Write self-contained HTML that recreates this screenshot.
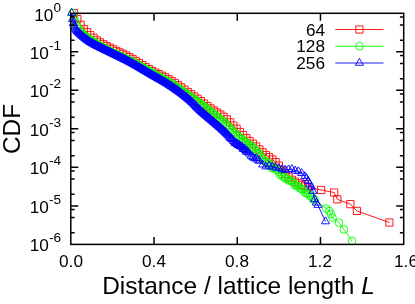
<!DOCTYPE html>
<html><head><meta charset="utf-8"><title>CDF</title><style>
html,body{margin:0;padding:0;background:#fff;}
body{width:415px;height:304px;position:relative;overflow:hidden;font-family:"Liberation Sans",sans-serif;color:#000;}
.t{will-change:transform;position:absolute;white-space:nowrap;line-height:1;font-size:17.2px;}
.yt{text-align:right;width:60px;left:0.8px;}
.yt sup{font-size:13.6px;vertical-align:baseline;position:relative;top:-8.7px;line-height:0;}
.xt{text-align:center;width:60px;}
.lg{text-align:right;width:60px;left:265.4px;}
.xl{font-size:24.4px;left:0;width:415px;text-align:center;}
.yl{font-size:24.4px;transform-origin:0 0;transform:rotate(-90deg);}
</style></head><body>
<svg width="415" height="304" viewBox="0 0 415 304" style="position:absolute;left:0;top:0"><g fill="none" stroke-width="0.9" stroke-linejoin="miter"><polyline stroke="#ff0000" points="74.05,13 77.3,19 80.55,24.8 83.8,29 87.05,32.16 90.31,35.21 93.56,37.77 96.81,40.31 100.06,42.38 103.31,44.24 106.56,46 109.81,47.7 113.06,49.33 116.31,50.88 119.56,52.39 122.82,53.9 126.07,55.47 129.32,57.13 132.57,58.95 135.82,60.94 139.07,63.01 142.32,65.11 145.57,67.18 148.82,69.13 152.07,70.92 155.33,72.58 158.58,74.16 161.83,75.72 165.08,77.33 168.33,79.05 171.58,80.94 174.83,82.99 178.08,85.16 181.33,87.41 184.58,89.7 187.84,92 191.09,94.25 194.34,96.49 197.59,98.77 200.84,101.11 204.09,103.58 207.34,106.06 210.59,108.41 213.84,110.52 217.09,112.51 220.34,114.53 223.6,116.74 226.85,119.33 230.1,122.37 233.35,125.59 236.6,128.76 239.85,132.01 243.1,135.22 246.35,138.21 249.6,140.98 252.85,143.68 256.11,146.47 259.36,149.41 262.61,152.31 265.86,154.96 269.11,157.21 272.36,159.43 275.61,162.05 278.86,165.6 282.11,169.74 285.36,173.85 288.62,177.35 291.87,179.79 295.12,181.7 298.37,183.34 301.62,184.86 304.87,186.24 308.12,187.44 321.13,189.96 334.13,192.54 337.38,199.33 350.38,204.14 356.89,210.92 389.4,222.51"/><path stroke="#ff0000" d="M70.45 9.4h7.2v7.2h-7.2zM73.7 15.4h7.2v7.2h-7.2zM76.95 21.2h7.2v7.2h-7.2zM80.2 25.4h7.2v7.2h-7.2zM83.45 28.56h7.2v7.2h-7.2zM86.71 31.61h7.2v7.2h-7.2zM89.96 34.17h7.2v7.2h-7.2zM93.21 36.71h7.2v7.2h-7.2zM96.46 38.78h7.2v7.2h-7.2zM99.71 40.64h7.2v7.2h-7.2zM102.96 42.4h7.2v7.2h-7.2zM106.21 44.1h7.2v7.2h-7.2zM109.46 45.73h7.2v7.2h-7.2zM112.71 47.28h7.2v7.2h-7.2zM115.96 48.79h7.2v7.2h-7.2zM119.22 50.3h7.2v7.2h-7.2zM122.47 51.87h7.2v7.2h-7.2zM125.72 53.53h7.2v7.2h-7.2zM128.97 55.35h7.2v7.2h-7.2zM132.22 57.34h7.2v7.2h-7.2zM135.47 59.41h7.2v7.2h-7.2zM138.72 61.51h7.2v7.2h-7.2zM141.97 63.58h7.2v7.2h-7.2zM145.22 65.53h7.2v7.2h-7.2zM148.47 67.32h7.2v7.2h-7.2zM151.73 68.98h7.2v7.2h-7.2zM154.98 70.56h7.2v7.2h-7.2zM158.23 72.12h7.2v7.2h-7.2zM161.48 73.73h7.2v7.2h-7.2zM164.73 75.45h7.2v7.2h-7.2zM167.98 77.34h7.2v7.2h-7.2zM171.23 79.39h7.2v7.2h-7.2zM174.48 81.56h7.2v7.2h-7.2zM177.73 83.81h7.2v7.2h-7.2zM180.98 86.1h7.2v7.2h-7.2zM184.24 88.4h7.2v7.2h-7.2zM187.49 90.65h7.2v7.2h-7.2zM190.74 92.89h7.2v7.2h-7.2zM193.99 95.17h7.2v7.2h-7.2zM197.24 97.51h7.2v7.2h-7.2zM200.49 99.98h7.2v7.2h-7.2zM203.74 102.46h7.2v7.2h-7.2zM206.99 104.81h7.2v7.2h-7.2zM210.24 106.92h7.2v7.2h-7.2zM213.49 108.91h7.2v7.2h-7.2zM216.74 110.93h7.2v7.2h-7.2zM220 113.14h7.2v7.2h-7.2zM223.25 115.73h7.2v7.2h-7.2zM226.5 118.77h7.2v7.2h-7.2zM229.75 121.99h7.2v7.2h-7.2zM233 125.16h7.2v7.2h-7.2zM236.25 128.41h7.2v7.2h-7.2zM239.5 131.62h7.2v7.2h-7.2zM242.75 134.61h7.2v7.2h-7.2zM246 137.38h7.2v7.2h-7.2zM249.25 140.08h7.2v7.2h-7.2zM252.51 142.87h7.2v7.2h-7.2zM255.76 145.81h7.2v7.2h-7.2zM259.01 148.71h7.2v7.2h-7.2zM262.26 151.36h7.2v7.2h-7.2zM265.51 153.61h7.2v7.2h-7.2zM268.76 155.83h7.2v7.2h-7.2zM272.01 158.45h7.2v7.2h-7.2zM275.26 162h7.2v7.2h-7.2zM278.51 166.14h7.2v7.2h-7.2zM281.76 170.25h7.2v7.2h-7.2zM285.02 173.75h7.2v7.2h-7.2zM288.27 176.19h7.2v7.2h-7.2zM291.52 178.1h7.2v7.2h-7.2zM294.77 179.74h7.2v7.2h-7.2zM298.02 181.26h7.2v7.2h-7.2zM301.27 182.64h7.2v7.2h-7.2zM304.52 183.84h7.2v7.2h-7.2zM317.53 186.36h7.2v7.2h-7.2zM330.53 188.94h7.2v7.2h-7.2zM333.78 195.73h7.2v7.2h-7.2zM346.78 200.54h7.2v7.2h-7.2zM353.29 207.32h7.2v7.2h-7.2zM385.8 218.91h7.2v7.2h-7.2z"/><polyline stroke="#00ff00" points="72.43,13 74.05,17.16 75.68,22.49 77.3,26.4 78.93,29.17 80.55,31.47 82.18,33.47 83.8,35.01 85.43,36.33 87.05,37.52 88.68,38.62 90.31,39.7 91.93,40.77 93.56,41.81 95.18,42.82 96.81,43.81 98.43,44.77 100.06,45.71 101.68,46.63 103.31,47.53 104.94,48.41 106.56,49.29 108.19,50.15 109.81,51 111.44,51.84 113.06,52.64 114.69,53.43 116.31,54.19 117.94,54.94 119.56,55.68 121.19,56.42 122.82,57.16 124.44,57.91 126.07,58.67 127.69,59.45 129.32,60.25 130.94,61.08 132.57,61.93 134.19,62.79 135.82,63.67 137.45,64.56 139.07,65.46 140.7,66.36 142.32,67.28 143.95,68.19 145.57,69.11 147.2,70.02 148.82,70.94 150.45,71.85 152.07,72.76 153.7,73.66 155.33,74.56 156.95,75.46 158.58,76.36 160.2,77.27 161.83,78.18 163.45,79.11 165.08,80.05 166.7,81.01 168.33,81.98 169.95,82.97 171.58,83.99 173.21,85.03 174.83,86.09 176.46,87.17 178.08,88.27 179.71,89.37 181.33,90.49 182.96,91.62 184.58,92.74 186.21,93.87 187.84,95 189.46,96.13 191.09,97.25 192.71,98.36 194.34,99.48 195.96,100.61 197.59,101.76 199.21,102.93 200.84,104.12 202.46,105.34 204.09,106.58 205.72,107.84 207.34,109.11 208.97,110.39 210.59,111.66 212.22,112.92 213.84,114.17 215.47,115.42 217.09,116.67 218.72,117.95 220.34,119.25 221.97,120.58 223.6,121.96 225.22,123.4 226.85,124.94 228.47,126.58 230.1,128.27 231.72,129.96 233.35,131.61 234.97,133.18 236.6,134.62 238.23,135.96 239.85,137.56 241.48,138.56 243.1,140.24 244.73,141.43 246.35,142.38 247.98,144.22 249.6,144.77 251.23,146.66 252.85,147.3 254.48,148.68 256.11,150.89 257.73,153.52 259.36,153.5 260.98,155.51 262.61,158.42 264.23,161.14 265.86,161.57 267.48,162.53 269.11,165.87 270.74,164.35 272.36,168.38 273.99,167.96 275.61,168.88 277.24,170.17 278.86,172.14 280.49,175.11 282.11,174.4 283.74,176.99 285.36,178.45 286.99,178.85 288.62,180.64 290.24,180.27 291.87,181.4 293.49,182.95 295.12,185.53 296.74,185.76 298.37,186.44 299.99,188.38 301.62,189.08 303.24,189.76 304.87,192.54 306.5,193.45 308.12,193.24 309.75,195.56 311.37,196.7 313,199.13 314.62,199.73 326,208.45 329.25,211.03 330.88,214.08 332.5,217.82 339.01,222.63 343.88,229.41 352.01,241.01"/><path stroke="#00ff00" d="M68.58 13a3.85 3.85 0 1 0 7.7 0a3.85 3.85 0 1 0 -7.7 0zM70.2 17.16a3.85 3.85 0 1 0 7.7 0a3.85 3.85 0 1 0 -7.7 0zM71.83 22.49a3.85 3.85 0 1 0 7.7 0a3.85 3.85 0 1 0 -7.7 0zM73.45 26.4a3.85 3.85 0 1 0 7.7 0a3.85 3.85 0 1 0 -7.7 0zM75.08 29.17a3.85 3.85 0 1 0 7.7 0a3.85 3.85 0 1 0 -7.7 0zM76.7 31.47a3.85 3.85 0 1 0 7.7 0a3.85 3.85 0 1 0 -7.7 0zM78.33 33.47a3.85 3.85 0 1 0 7.7 0a3.85 3.85 0 1 0 -7.7 0zM79.95 35.01a3.85 3.85 0 1 0 7.7 0a3.85 3.85 0 1 0 -7.7 0zM81.58 36.33a3.85 3.85 0 1 0 7.7 0a3.85 3.85 0 1 0 -7.7 0zM83.2 37.52a3.85 3.85 0 1 0 7.7 0a3.85 3.85 0 1 0 -7.7 0zM84.83 38.62a3.85 3.85 0 1 0 7.7 0a3.85 3.85 0 1 0 -7.7 0zM86.46 39.7a3.85 3.85 0 1 0 7.7 0a3.85 3.85 0 1 0 -7.7 0zM88.08 40.77a3.85 3.85 0 1 0 7.7 0a3.85 3.85 0 1 0 -7.7 0zM89.71 41.81a3.85 3.85 0 1 0 7.7 0a3.85 3.85 0 1 0 -7.7 0zM91.33 42.82a3.85 3.85 0 1 0 7.7 0a3.85 3.85 0 1 0 -7.7 0zM92.96 43.81a3.85 3.85 0 1 0 7.7 0a3.85 3.85 0 1 0 -7.7 0zM94.58 44.77a3.85 3.85 0 1 0 7.7 0a3.85 3.85 0 1 0 -7.7 0zM96.21 45.71a3.85 3.85 0 1 0 7.7 0a3.85 3.85 0 1 0 -7.7 0zM97.83 46.63a3.85 3.85 0 1 0 7.7 0a3.85 3.85 0 1 0 -7.7 0zM99.46 47.53a3.85 3.85 0 1 0 7.7 0a3.85 3.85 0 1 0 -7.7 0zM101.09 48.41a3.85 3.85 0 1 0 7.7 0a3.85 3.85 0 1 0 -7.7 0zM102.71 49.29a3.85 3.85 0 1 0 7.7 0a3.85 3.85 0 1 0 -7.7 0zM104.34 50.15a3.85 3.85 0 1 0 7.7 0a3.85 3.85 0 1 0 -7.7 0zM105.96 51a3.85 3.85 0 1 0 7.7 0a3.85 3.85 0 1 0 -7.7 0zM107.59 51.84a3.85 3.85 0 1 0 7.7 0a3.85 3.85 0 1 0 -7.7 0zM109.21 52.64a3.85 3.85 0 1 0 7.7 0a3.85 3.85 0 1 0 -7.7 0zM110.84 53.43a3.85 3.85 0 1 0 7.7 0a3.85 3.85 0 1 0 -7.7 0zM112.46 54.19a3.85 3.85 0 1 0 7.7 0a3.85 3.85 0 1 0 -7.7 0zM114.09 54.94a3.85 3.85 0 1 0 7.7 0a3.85 3.85 0 1 0 -7.7 0zM115.71 55.68a3.85 3.85 0 1 0 7.7 0a3.85 3.85 0 1 0 -7.7 0zM117.34 56.42a3.85 3.85 0 1 0 7.7 0a3.85 3.85 0 1 0 -7.7 0zM118.97 57.16a3.85 3.85 0 1 0 7.7 0a3.85 3.85 0 1 0 -7.7 0zM120.59 57.91a3.85 3.85 0 1 0 7.7 0a3.85 3.85 0 1 0 -7.7 0zM122.22 58.67a3.85 3.85 0 1 0 7.7 0a3.85 3.85 0 1 0 -7.7 0zM123.84 59.45a3.85 3.85 0 1 0 7.7 0a3.85 3.85 0 1 0 -7.7 0zM125.47 60.25a3.85 3.85 0 1 0 7.7 0a3.85 3.85 0 1 0 -7.7 0zM127.09 61.08a3.85 3.85 0 1 0 7.7 0a3.85 3.85 0 1 0 -7.7 0zM128.72 61.93a3.85 3.85 0 1 0 7.7 0a3.85 3.85 0 1 0 -7.7 0zM130.34 62.79a3.85 3.85 0 1 0 7.7 0a3.85 3.85 0 1 0 -7.7 0zM131.97 63.67a3.85 3.85 0 1 0 7.7 0a3.85 3.85 0 1 0 -7.7 0zM133.6 64.56a3.85 3.85 0 1 0 7.7 0a3.85 3.85 0 1 0 -7.7 0zM135.22 65.46a3.85 3.85 0 1 0 7.7 0a3.85 3.85 0 1 0 -7.7 0zM136.85 66.36a3.85 3.85 0 1 0 7.7 0a3.85 3.85 0 1 0 -7.7 0zM138.47 67.28a3.85 3.85 0 1 0 7.7 0a3.85 3.85 0 1 0 -7.7 0zM140.1 68.19a3.85 3.85 0 1 0 7.7 0a3.85 3.85 0 1 0 -7.7 0zM141.72 69.11a3.85 3.85 0 1 0 7.7 0a3.85 3.85 0 1 0 -7.7 0zM143.35 70.02a3.85 3.85 0 1 0 7.7 0a3.85 3.85 0 1 0 -7.7 0zM144.97 70.94a3.85 3.85 0 1 0 7.7 0a3.85 3.85 0 1 0 -7.7 0zM146.6 71.85a3.85 3.85 0 1 0 7.7 0a3.85 3.85 0 1 0 -7.7 0zM148.22 72.76a3.85 3.85 0 1 0 7.7 0a3.85 3.85 0 1 0 -7.7 0zM149.85 73.66a3.85 3.85 0 1 0 7.7 0a3.85 3.85 0 1 0 -7.7 0zM151.48 74.56a3.85 3.85 0 1 0 7.7 0a3.85 3.85 0 1 0 -7.7 0zM153.1 75.46a3.85 3.85 0 1 0 7.7 0a3.85 3.85 0 1 0 -7.7 0zM154.73 76.36a3.85 3.85 0 1 0 7.7 0a3.85 3.85 0 1 0 -7.7 0zM156.35 77.27a3.85 3.85 0 1 0 7.7 0a3.85 3.85 0 1 0 -7.7 0zM157.98 78.18a3.85 3.85 0 1 0 7.7 0a3.85 3.85 0 1 0 -7.7 0zM159.6 79.11a3.85 3.85 0 1 0 7.7 0a3.85 3.85 0 1 0 -7.7 0zM161.23 80.05a3.85 3.85 0 1 0 7.7 0a3.85 3.85 0 1 0 -7.7 0zM162.85 81.01a3.85 3.85 0 1 0 7.7 0a3.85 3.85 0 1 0 -7.7 0zM164.48 81.98a3.85 3.85 0 1 0 7.7 0a3.85 3.85 0 1 0 -7.7 0zM166.1 82.97a3.85 3.85 0 1 0 7.7 0a3.85 3.85 0 1 0 -7.7 0zM167.73 83.99a3.85 3.85 0 1 0 7.7 0a3.85 3.85 0 1 0 -7.7 0zM169.36 85.03a3.85 3.85 0 1 0 7.7 0a3.85 3.85 0 1 0 -7.7 0zM170.98 86.09a3.85 3.85 0 1 0 7.7 0a3.85 3.85 0 1 0 -7.7 0zM172.61 87.17a3.85 3.85 0 1 0 7.7 0a3.85 3.85 0 1 0 -7.7 0zM174.23 88.27a3.85 3.85 0 1 0 7.7 0a3.85 3.85 0 1 0 -7.7 0zM175.86 89.37a3.85 3.85 0 1 0 7.7 0a3.85 3.85 0 1 0 -7.7 0zM177.48 90.49a3.85 3.85 0 1 0 7.7 0a3.85 3.85 0 1 0 -7.7 0zM179.11 91.62a3.85 3.85 0 1 0 7.7 0a3.85 3.85 0 1 0 -7.7 0zM180.73 92.74a3.85 3.85 0 1 0 7.7 0a3.85 3.85 0 1 0 -7.7 0zM182.36 93.87a3.85 3.85 0 1 0 7.7 0a3.85 3.85 0 1 0 -7.7 0zM183.99 95a3.85 3.85 0 1 0 7.7 0a3.85 3.85 0 1 0 -7.7 0zM185.61 96.13a3.85 3.85 0 1 0 7.7 0a3.85 3.85 0 1 0 -7.7 0zM187.24 97.25a3.85 3.85 0 1 0 7.7 0a3.85 3.85 0 1 0 -7.7 0zM188.86 98.36a3.85 3.85 0 1 0 7.7 0a3.85 3.85 0 1 0 -7.7 0zM190.49 99.48a3.85 3.85 0 1 0 7.7 0a3.85 3.85 0 1 0 -7.7 0zM192.11 100.61a3.85 3.85 0 1 0 7.7 0a3.85 3.85 0 1 0 -7.7 0zM193.74 101.76a3.85 3.85 0 1 0 7.7 0a3.85 3.85 0 1 0 -7.7 0zM195.36 102.93a3.85 3.85 0 1 0 7.7 0a3.85 3.85 0 1 0 -7.7 0zM196.99 104.12a3.85 3.85 0 1 0 7.7 0a3.85 3.85 0 1 0 -7.7 0zM198.61 105.34a3.85 3.85 0 1 0 7.7 0a3.85 3.85 0 1 0 -7.7 0zM200.24 106.58a3.85 3.85 0 1 0 7.7 0a3.85 3.85 0 1 0 -7.7 0zM201.87 107.84a3.85 3.85 0 1 0 7.7 0a3.85 3.85 0 1 0 -7.7 0zM203.49 109.11a3.85 3.85 0 1 0 7.7 0a3.85 3.85 0 1 0 -7.7 0zM205.12 110.39a3.85 3.85 0 1 0 7.7 0a3.85 3.85 0 1 0 -7.7 0zM206.74 111.66a3.85 3.85 0 1 0 7.7 0a3.85 3.85 0 1 0 -7.7 0zM208.37 112.92a3.85 3.85 0 1 0 7.7 0a3.85 3.85 0 1 0 -7.7 0zM209.99 114.17a3.85 3.85 0 1 0 7.7 0a3.85 3.85 0 1 0 -7.7 0zM211.62 115.42a3.85 3.85 0 1 0 7.7 0a3.85 3.85 0 1 0 -7.7 0zM213.24 116.67a3.85 3.85 0 1 0 7.7 0a3.85 3.85 0 1 0 -7.7 0zM214.87 117.95a3.85 3.85 0 1 0 7.7 0a3.85 3.85 0 1 0 -7.7 0zM216.49 119.25a3.85 3.85 0 1 0 7.7 0a3.85 3.85 0 1 0 -7.7 0zM218.12 120.58a3.85 3.85 0 1 0 7.7 0a3.85 3.85 0 1 0 -7.7 0zM219.75 121.96a3.85 3.85 0 1 0 7.7 0a3.85 3.85 0 1 0 -7.7 0zM221.37 123.4a3.85 3.85 0 1 0 7.7 0a3.85 3.85 0 1 0 -7.7 0zM223 124.94a3.85 3.85 0 1 0 7.7 0a3.85 3.85 0 1 0 -7.7 0zM224.62 126.58a3.85 3.85 0 1 0 7.7 0a3.85 3.85 0 1 0 -7.7 0zM226.25 128.27a3.85 3.85 0 1 0 7.7 0a3.85 3.85 0 1 0 -7.7 0zM227.87 129.96a3.85 3.85 0 1 0 7.7 0a3.85 3.85 0 1 0 -7.7 0zM229.5 131.61a3.85 3.85 0 1 0 7.7 0a3.85 3.85 0 1 0 -7.7 0zM231.12 133.18a3.85 3.85 0 1 0 7.7 0a3.85 3.85 0 1 0 -7.7 0zM232.75 134.62a3.85 3.85 0 1 0 7.7 0a3.85 3.85 0 1 0 -7.7 0zM234.38 135.96a3.85 3.85 0 1 0 7.7 0a3.85 3.85 0 1 0 -7.7 0zM236 137.56a3.85 3.85 0 1 0 7.7 0a3.85 3.85 0 1 0 -7.7 0zM237.63 138.56a3.85 3.85 0 1 0 7.7 0a3.85 3.85 0 1 0 -7.7 0zM239.25 140.24a3.85 3.85 0 1 0 7.7 0a3.85 3.85 0 1 0 -7.7 0zM240.88 141.43a3.85 3.85 0 1 0 7.7 0a3.85 3.85 0 1 0 -7.7 0zM242.5 142.38a3.85 3.85 0 1 0 7.7 0a3.85 3.85 0 1 0 -7.7 0zM244.13 144.22a3.85 3.85 0 1 0 7.7 0a3.85 3.85 0 1 0 -7.7 0zM245.75 144.77a3.85 3.85 0 1 0 7.7 0a3.85 3.85 0 1 0 -7.7 0zM247.38 146.66a3.85 3.85 0 1 0 7.7 0a3.85 3.85 0 1 0 -7.7 0zM249 147.3a3.85 3.85 0 1 0 7.7 0a3.85 3.85 0 1 0 -7.7 0zM250.63 148.68a3.85 3.85 0 1 0 7.7 0a3.85 3.85 0 1 0 -7.7 0zM252.26 150.89a3.85 3.85 0 1 0 7.7 0a3.85 3.85 0 1 0 -7.7 0zM253.88 153.52a3.85 3.85 0 1 0 7.7 0a3.85 3.85 0 1 0 -7.7 0zM255.51 153.5a3.85 3.85 0 1 0 7.7 0a3.85 3.85 0 1 0 -7.7 0zM257.13 155.51a3.85 3.85 0 1 0 7.7 0a3.85 3.85 0 1 0 -7.7 0zM258.76 158.42a3.85 3.85 0 1 0 7.7 0a3.85 3.85 0 1 0 -7.7 0zM260.38 161.14a3.85 3.85 0 1 0 7.7 0a3.85 3.85 0 1 0 -7.7 0zM262.01 161.57a3.85 3.85 0 1 0 7.7 0a3.85 3.85 0 1 0 -7.7 0zM263.63 162.53a3.85 3.85 0 1 0 7.7 0a3.85 3.85 0 1 0 -7.7 0zM265.26 165.87a3.85 3.85 0 1 0 7.7 0a3.85 3.85 0 1 0 -7.7 0zM266.89 164.35a3.85 3.85 0 1 0 7.7 0a3.85 3.85 0 1 0 -7.7 0zM268.51 168.38a3.85 3.85 0 1 0 7.7 0a3.85 3.85 0 1 0 -7.7 0zM270.14 167.96a3.85 3.85 0 1 0 7.7 0a3.85 3.85 0 1 0 -7.7 0zM271.76 168.88a3.85 3.85 0 1 0 7.7 0a3.85 3.85 0 1 0 -7.7 0zM273.39 170.17a3.85 3.85 0 1 0 7.7 0a3.85 3.85 0 1 0 -7.7 0zM275.01 172.14a3.85 3.85 0 1 0 7.7 0a3.85 3.85 0 1 0 -7.7 0zM276.64 175.11a3.85 3.85 0 1 0 7.7 0a3.85 3.85 0 1 0 -7.7 0zM278.26 174.4a3.85 3.85 0 1 0 7.7 0a3.85 3.85 0 1 0 -7.7 0zM279.89 176.99a3.85 3.85 0 1 0 7.7 0a3.85 3.85 0 1 0 -7.7 0zM281.51 178.45a3.85 3.85 0 1 0 7.7 0a3.85 3.85 0 1 0 -7.7 0zM283.14 178.85a3.85 3.85 0 1 0 7.7 0a3.85 3.85 0 1 0 -7.7 0zM284.77 180.64a3.85 3.85 0 1 0 7.7 0a3.85 3.85 0 1 0 -7.7 0zM286.39 180.27a3.85 3.85 0 1 0 7.7 0a3.85 3.85 0 1 0 -7.7 0zM288.02 181.4a3.85 3.85 0 1 0 7.7 0a3.85 3.85 0 1 0 -7.7 0zM289.64 182.95a3.85 3.85 0 1 0 7.7 0a3.85 3.85 0 1 0 -7.7 0zM291.27 185.53a3.85 3.85 0 1 0 7.7 0a3.85 3.85 0 1 0 -7.7 0zM292.89 185.76a3.85 3.85 0 1 0 7.7 0a3.85 3.85 0 1 0 -7.7 0zM294.52 186.44a3.85 3.85 0 1 0 7.7 0a3.85 3.85 0 1 0 -7.7 0zM296.14 188.38a3.85 3.85 0 1 0 7.7 0a3.85 3.85 0 1 0 -7.7 0zM297.77 189.08a3.85 3.85 0 1 0 7.7 0a3.85 3.85 0 1 0 -7.7 0zM299.39 189.76a3.85 3.85 0 1 0 7.7 0a3.85 3.85 0 1 0 -7.7 0zM301.02 192.54a3.85 3.85 0 1 0 7.7 0a3.85 3.85 0 1 0 -7.7 0zM302.65 193.45a3.85 3.85 0 1 0 7.7 0a3.85 3.85 0 1 0 -7.7 0zM304.27 193.24a3.85 3.85 0 1 0 7.7 0a3.85 3.85 0 1 0 -7.7 0zM305.9 195.56a3.85 3.85 0 1 0 7.7 0a3.85 3.85 0 1 0 -7.7 0zM307.52 196.7a3.85 3.85 0 1 0 7.7 0a3.85 3.85 0 1 0 -7.7 0zM309.15 199.13a3.85 3.85 0 1 0 7.7 0a3.85 3.85 0 1 0 -7.7 0zM310.77 199.73a3.85 3.85 0 1 0 7.7 0a3.85 3.85 0 1 0 -7.7 0zM322.15 208.45a3.85 3.85 0 1 0 7.7 0a3.85 3.85 0 1 0 -7.7 0zM325.4 211.03a3.85 3.85 0 1 0 7.7 0a3.85 3.85 0 1 0 -7.7 0zM327.03 214.08a3.85 3.85 0 1 0 7.7 0a3.85 3.85 0 1 0 -7.7 0zM328.65 217.82a3.85 3.85 0 1 0 7.7 0a3.85 3.85 0 1 0 -7.7 0zM335.16 222.63a3.85 3.85 0 1 0 7.7 0a3.85 3.85 0 1 0 -7.7 0zM340.03 229.41a3.85 3.85 0 1 0 7.7 0a3.85 3.85 0 1 0 -7.7 0zM348.16 241.01a3.85 3.85 0 1 0 7.7 0a3.85 3.85 0 1 0 -7.7 0z"/><polyline stroke="#0000ff" points="71.61,13 72.43,19.15 73.24,23.15 74.05,25.63 74.86,27.53 75.68,29.04 76.49,30.29 77.3,31.29 78.11,32.18 78.93,32.98 79.74,33.75 80.55,34.52 81.37,35.26 82.18,35.97 82.99,36.66 83.8,37.34 84.62,37.99 85.43,38.64 86.24,39.28 87.05,39.91 87.87,40.53 88.68,41.12 89.49,41.67 90.31,42.19 91.12,42.69 91.93,43.18 92.74,43.65 93.56,44.11 94.37,44.56 95.18,45.01 96,45.44 96.81,45.86 97.62,46.28 98.43,46.69 99.25,47.09 100.06,47.49 100.87,47.89 101.68,48.28 102.5,48.67 103.31,49.06 104.12,49.44 104.94,49.83 105.75,50.22 106.56,50.61 107.37,51 108.19,51.4 109,51.8 109.81,52.21 110.62,52.61 111.44,53.02 112.25,53.42 113.06,53.82 113.88,54.22 114.69,54.61 115.5,55.01 116.31,55.4 117.13,55.79 117.94,56.18 118.75,56.58 119.56,56.97 120.38,57.36 121.19,57.75 122,58.15 122.82,58.54 123.63,58.94 124.44,59.35 125.25,59.75 126.07,60.16 126.88,60.57 127.69,60.99 128.5,61.41 129.32,61.84 130.13,62.27 130.94,62.71 131.76,63.15 132.57,63.6 133.38,64.05 134.19,64.51 135.01,64.97 135.82,65.44 136.63,65.91 137.45,66.38 138.26,66.85 139.07,67.33 139.88,67.81 140.7,68.29 141.51,68.77 142.32,69.26 143.13,69.74 143.95,70.22 144.76,70.71 145.57,71.19 146.39,71.67 147.2,72.15 148.01,72.63 148.82,73.11 149.64,73.59 150.45,74.06 151.26,74.53 152.07,75 152.89,75.46 153.7,75.92 154.51,76.38 155.33,76.83 156.14,77.29 156.95,77.75 157.76,78.2 158.58,78.66 159.39,79.12 160.2,79.58 161.01,80.05 161.83,80.51 162.64,80.98 163.45,81.46 164.27,81.94 165.08,82.42 165.89,82.91 166.7,83.41 167.52,83.91 168.33,84.42 169.14,84.94 169.95,85.47 170.77,86 171.58,86.54 172.39,87.09 173.21,87.63 174.02,88.19 174.83,88.75 175.64,89.31 176.46,89.88 177.27,90.45 178.08,91.03 178.89,91.62 179.71,92.21 180.52,92.81 181.33,93.42 182.15,94.04 182.96,94.66 183.77,95.29 184.58,95.93 185.4,96.57 186.21,97.23 187.02,97.89 187.84,98.56 188.65,99.25 189.46,99.94 190.27,100.64 191.09,101.37 191.9,102.14 192.71,102.94 193.52,103.76 194.34,104.59 195.15,105.43 195.96,106.27 196.78,107.12 197.59,107.95 198.4,108.76 199.21,109.56 200.03,110.32 200.84,111.07 201.65,111.8 202.46,112.53 203.28,113.24 204.09,113.95 204.9,114.65 205.72,115.34 206.53,116.03 207.34,116.72 208.15,117.4 208.97,118.08 209.78,118.76 210.59,119.45 211.4,120.13 212.22,120.81 213.03,121.5 213.84,122.2 214.66,122.9 215.47,123.6 216.28,124.35 217.09,124.95 217.91,125.69 218.72,126.46 219.53,127 220.34,127.8 221.16,128.33 221.97,129.3 222.78,130.09 223.6,130.73 224.41,131.67 225.22,132.09 226.03,133.15 226.85,133.92 227.66,134.77 228.47,135.54 229.29,136.77 230.1,137.78 230.91,138.19 231.72,139.27 232.54,139.43 233.35,140.99 234.16,141.72 234.97,142.92 235.79,143.41 236.6,143.35 237.41,144.14 238.23,145.19 239.04,144.81 239.85,146.1 240.66,146.21 241.48,146.7 242.29,147.17 243.1,149.04 243.91,148.47 244.73,149.3 245.54,150.21 246.35,151.83 247.17,150.85 247.98,152.28 249.6,153.83 251.23,155.95 252.85,157.13 254.48,158.54 256.11,158.27 257.73,159.9 259.36,161.02 262.61,164.69 265.86,166.57 269.11,165.74 272.36,166.82 275.61,167.73 278.86,168.29 282.11,169.4 285.36,170.08 288.62,169.54 291.87,169.16 295.12,170.7 298.37,171.37 301.62,173.2 304.87,176.32 306.5,178.33 308.12,181.14 309.75,183.94 311.37,186.86 313,191.06 314.62,199.37 316.25,202.78 317.87,205.07 325.5,221.5"/><path stroke="#0000ff" d="M71.61 8.4L67.61 15.3L75.61 15.3zM72.43 14.55L68.43 21.45L76.43 21.45zM73.24 18.55L69.24 25.45L77.24 25.45zM74.05 21.03L70.05 27.93L78.05 27.93zM74.86 22.93L70.86 29.83L78.86 29.83zM75.68 24.44L71.68 31.34L79.68 31.34zM76.49 25.69L72.49 32.59L80.49 32.59zM77.3 26.69L73.3 33.59L81.3 33.59zM78.11 27.58L74.11 34.48L82.11 34.48zM78.93 28.38L74.93 35.28L82.93 35.28zM79.74 29.15L75.74 36.05L83.74 36.05zM80.55 29.92L76.55 36.82L84.55 36.82zM81.37 30.66L77.37 37.56L85.37 37.56zM82.18 31.37L78.18 38.27L86.18 38.27zM82.99 32.06L78.99 38.96L86.99 38.96zM83.8 32.74L79.8 39.64L87.8 39.64zM84.62 33.39L80.62 40.29L88.62 40.29zM85.43 34.04L81.43 40.94L89.43 40.94zM86.24 34.68L82.24 41.58L90.24 41.58zM87.05 35.31L83.05 42.21L91.05 42.21zM87.87 35.93L83.87 42.83L91.87 42.83zM88.68 36.52L84.68 43.42L92.68 43.42zM89.49 37.07L85.49 43.97L93.49 43.97zM90.31 37.59L86.31 44.49L94.31 44.49zM91.12 38.09L87.12 44.99L95.12 44.99zM91.93 38.58L87.93 45.48L95.93 45.48zM92.74 39.05L88.74 45.95L96.74 45.95zM93.56 39.51L89.56 46.41L97.56 46.41zM94.37 39.96L90.37 46.86L98.37 46.86zM95.18 40.41L91.18 47.31L99.18 47.31zM96 40.84L92 47.74L100 47.74zM96.81 41.26L92.81 48.16L100.81 48.16zM97.62 41.68L93.62 48.58L101.62 48.58zM98.43 42.09L94.43 48.99L102.43 48.99zM99.25 42.49L95.25 49.39L103.25 49.39zM100.06 42.89L96.06 49.79L104.06 49.79zM100.87 43.29L96.87 50.19L104.87 50.19zM101.68 43.68L97.68 50.58L105.68 50.58zM102.5 44.07L98.5 50.97L106.5 50.97zM103.31 44.46L99.31 51.36L107.31 51.36zM104.12 44.84L100.12 51.74L108.12 51.74zM104.94 45.23L100.94 52.13L108.94 52.13zM105.75 45.62L101.75 52.52L109.75 52.52zM106.56 46.01L102.56 52.91L110.56 52.91zM107.37 46.4L103.37 53.3L111.37 53.3zM108.19 46.8L104.19 53.7L112.19 53.7zM109 47.2L105 54.1L113 54.1zM109.81 47.61L105.81 54.51L113.81 54.51zM110.62 48.01L106.62 54.91L114.62 54.91zM111.44 48.42L107.44 55.32L115.44 55.32zM112.25 48.82L108.25 55.72L116.25 55.72zM113.06 49.22L109.06 56.12L117.06 56.12zM113.88 49.62L109.88 56.52L117.88 56.52zM114.69 50.01L110.69 56.91L118.69 56.91zM115.5 50.41L111.5 57.31L119.5 57.31zM116.31 50.8L112.31 57.7L120.31 57.7zM117.13 51.19L113.13 58.09L121.13 58.09zM117.94 51.58L113.94 58.48L121.94 58.48zM118.75 51.98L114.75 58.88L122.75 58.88zM119.56 52.37L115.56 59.27L123.56 59.27zM120.38 52.76L116.38 59.66L124.38 59.66zM121.19 53.15L117.19 60.05L125.19 60.05zM122 53.55L118 60.45L126 60.45zM122.82 53.94L118.82 60.84L126.82 60.84zM123.63 54.34L119.63 61.24L127.63 61.24zM124.44 54.75L120.44 61.65L128.44 61.65zM125.25 55.15L121.25 62.05L129.25 62.05zM126.07 55.56L122.07 62.46L130.07 62.46zM126.88 55.97L122.88 62.87L130.88 62.87zM127.69 56.39L123.69 63.29L131.69 63.29zM128.5 56.81L124.5 63.71L132.5 63.71zM129.32 57.24L125.32 64.14L133.32 64.14zM130.13 57.67L126.13 64.57L134.13 64.57zM130.94 58.11L126.94 65.01L134.94 65.01zM131.76 58.55L127.76 65.45L135.76 65.45zM132.57 59L128.57 65.9L136.57 65.9zM133.38 59.45L129.38 66.35L137.38 66.35zM134.19 59.91L130.19 66.81L138.19 66.81zM135.01 60.37L131.01 67.27L139.01 67.27zM135.82 60.84L131.82 67.74L139.82 67.74zM136.63 61.31L132.63 68.21L140.63 68.21zM137.45 61.78L133.45 68.68L141.45 68.68zM138.26 62.25L134.26 69.15L142.26 69.15zM139.07 62.73L135.07 69.63L143.07 69.63zM139.88 63.21L135.88 70.11L143.88 70.11zM140.7 63.69L136.7 70.59L144.7 70.59zM141.51 64.17L137.51 71.07L145.51 71.07zM142.32 64.66L138.32 71.56L146.32 71.56zM143.13 65.14L139.13 72.04L147.13 72.04zM143.95 65.62L139.95 72.52L147.95 72.52zM144.76 66.11L140.76 73.01L148.76 73.01zM145.57 66.59L141.57 73.49L149.57 73.49zM146.39 67.07L142.39 73.97L150.39 73.97zM147.2 67.55L143.2 74.45L151.2 74.45zM148.01 68.03L144.01 74.93L152.01 74.93zM148.82 68.51L144.82 75.41L152.82 75.41zM149.64 68.99L145.64 75.89L153.64 75.89zM150.45 69.46L146.45 76.36L154.45 76.36zM151.26 69.93L147.26 76.83L155.26 76.83zM152.07 70.4L148.07 77.3L156.07 77.3zM152.89 70.86L148.89 77.76L156.89 77.76zM153.7 71.32L149.7 78.22L157.7 78.22zM154.51 71.78L150.51 78.68L158.51 78.68zM155.33 72.23L151.33 79.13L159.33 79.13zM156.14 72.69L152.14 79.59L160.14 79.59zM156.95 73.15L152.95 80.05L160.95 80.05zM157.76 73.6L153.76 80.5L161.76 80.5zM158.58 74.06L154.58 80.96L162.58 80.96zM159.39 74.52L155.39 81.42L163.39 81.42zM160.2 74.98L156.2 81.88L164.2 81.88zM161.01 75.45L157.01 82.35L165.01 82.35zM161.83 75.91L157.83 82.81L165.83 82.81zM162.64 76.38L158.64 83.28L166.64 83.28zM163.45 76.86L159.45 83.76L167.45 83.76zM164.27 77.34L160.27 84.24L168.27 84.24zM165.08 77.82L161.08 84.72L169.08 84.72zM165.89 78.31L161.89 85.21L169.89 85.21zM166.7 78.81L162.7 85.71L170.7 85.71zM167.52 79.31L163.52 86.21L171.52 86.21zM168.33 79.82L164.33 86.72L172.33 86.72zM169.14 80.34L165.14 87.24L173.14 87.24zM169.95 80.87L165.95 87.77L173.95 87.77zM170.77 81.4L166.77 88.3L174.77 88.3zM171.58 81.94L167.58 88.84L175.58 88.84zM172.39 82.49L168.39 89.39L176.39 89.39zM173.21 83.03L169.21 89.93L177.21 89.93zM174.02 83.59L170.02 90.49L178.02 90.49zM174.83 84.15L170.83 91.05L178.83 91.05zM175.64 84.71L171.64 91.61L179.64 91.61zM176.46 85.28L172.46 92.18L180.46 92.18zM177.27 85.85L173.27 92.75L181.27 92.75zM178.08 86.43L174.08 93.33L182.08 93.33zM178.89 87.02L174.89 93.92L182.89 93.92zM179.71 87.61L175.71 94.51L183.71 94.51zM180.52 88.21L176.52 95.11L184.52 95.11zM181.33 88.82L177.33 95.72L185.33 95.72zM182.15 89.44L178.15 96.34L186.15 96.34zM182.96 90.06L178.96 96.96L186.96 96.96zM183.77 90.69L179.77 97.59L187.77 97.59zM184.58 91.33L180.58 98.23L188.58 98.23zM185.4 91.97L181.4 98.87L189.4 98.87zM186.21 92.63L182.21 99.53L190.21 99.53zM187.02 93.29L183.02 100.19L191.02 100.19zM187.84 93.96L183.84 100.86L191.84 100.86zM188.65 94.65L184.65 101.55L192.65 101.55zM189.46 95.34L185.46 102.24L193.46 102.24zM190.27 96.04L186.27 102.94L194.27 102.94zM191.09 96.77L187.09 103.67L195.09 103.67zM191.9 97.54L187.9 104.44L195.9 104.44zM192.71 98.34L188.71 105.24L196.71 105.24zM193.52 99.16L189.52 106.06L197.52 106.06zM194.34 99.99L190.34 106.89L198.34 106.89zM195.15 100.83L191.15 107.73L199.15 107.73zM195.96 101.67L191.96 108.57L199.96 108.57zM196.78 102.52L192.78 109.42L200.78 109.42zM197.59 103.35L193.59 110.25L201.59 110.25zM198.4 104.16L194.4 111.06L202.4 111.06zM199.21 104.96L195.21 111.86L203.21 111.86zM200.03 105.72L196.03 112.62L204.03 112.62zM200.84 106.47L196.84 113.37L204.84 113.37zM201.65 107.2L197.65 114.1L205.65 114.1zM202.46 107.93L198.46 114.83L206.46 114.83zM203.28 108.64L199.28 115.54L207.28 115.54zM204.09 109.35L200.09 116.25L208.09 116.25zM204.9 110.05L200.9 116.95L208.9 116.95zM205.72 110.74L201.72 117.64L209.72 117.64zM206.53 111.43L202.53 118.33L210.53 118.33zM207.34 112.12L203.34 119.02L211.34 119.02zM208.15 112.8L204.15 119.7L212.15 119.7zM208.97 113.48L204.97 120.38L212.97 120.38zM209.78 114.16L205.78 121.06L213.78 121.06zM210.59 114.85L206.59 121.75L214.59 121.75zM211.4 115.53L207.4 122.43L215.4 122.43zM212.22 116.21L208.22 123.11L216.22 123.11zM213.03 116.9L209.03 123.8L217.03 123.8zM213.84 117.6L209.84 124.5L217.84 124.5zM214.66 118.3L210.66 125.2L218.66 125.2zM215.47 119L211.47 125.9L219.47 125.9zM216.28 119.75L212.28 126.65L220.28 126.65zM217.09 120.35L213.09 127.25L221.09 127.25zM217.91 121.09L213.91 127.99L221.91 127.99zM218.72 121.86L214.72 128.76L222.72 128.76zM219.53 122.4L215.53 129.3L223.53 129.3zM220.34 123.2L216.34 130.1L224.34 130.1zM221.16 123.73L217.16 130.63L225.16 130.63zM221.97 124.7L217.97 131.6L225.97 131.6zM222.78 125.49L218.78 132.39L226.78 132.39zM223.6 126.13L219.6 133.03L227.6 133.03zM224.41 127.07L220.41 133.97L228.41 133.97zM225.22 127.49L221.22 134.39L229.22 134.39zM226.03 128.55L222.03 135.45L230.03 135.45zM226.85 129.32L222.85 136.22L230.85 136.22zM227.66 130.17L223.66 137.07L231.66 137.07zM228.47 130.94L224.47 137.84L232.47 137.84zM229.29 132.17L225.29 139.07L233.29 139.07zM230.1 133.18L226.1 140.08L234.1 140.08zM230.91 133.59L226.91 140.49L234.91 140.49zM231.72 134.67L227.72 141.57L235.72 141.57zM232.54 134.83L228.54 141.73L236.54 141.73zM233.35 136.39L229.35 143.29L237.35 143.29zM234.16 137.12L230.16 144.02L238.16 144.02zM234.97 138.32L230.97 145.22L238.97 145.22zM235.79 138.81L231.79 145.71L239.79 145.71zM236.6 138.75L232.6 145.65L240.6 145.65zM237.41 139.54L233.41 146.44L241.41 146.44zM238.23 140.59L234.23 147.49L242.23 147.49zM239.04 140.21L235.04 147.11L243.04 147.11zM239.85 141.5L235.85 148.4L243.85 148.4zM240.66 141.61L236.66 148.51L244.66 148.51zM241.48 142.1L237.48 149L245.48 149zM242.29 142.57L238.29 149.47L246.29 149.47zM243.1 144.44L239.1 151.34L247.1 151.34zM243.91 143.87L239.91 150.77L247.91 150.77zM244.73 144.7L240.73 151.6L248.73 151.6zM245.54 145.61L241.54 152.51L249.54 152.51zM246.35 147.23L242.35 154.13L250.35 154.13zM247.17 146.25L243.17 153.15L251.17 153.15zM247.98 147.68L243.98 154.58L251.98 154.58zM249.6 149.23L245.6 156.13L253.6 156.13zM251.23 151.35L247.23 158.25L255.23 158.25zM252.85 152.53L248.85 159.43L256.85 159.43zM254.48 153.94L250.48 160.84L258.48 160.84zM256.11 153.67L252.11 160.57L260.11 160.57zM257.73 155.3L253.73 162.2L261.73 162.2zM259.36 156.42L255.36 163.32L263.36 163.32zM262.61 160.09L258.61 166.99L266.61 166.99zM265.86 161.97L261.86 168.87L269.86 168.87zM269.11 161.14L265.11 168.04L273.11 168.04zM272.36 162.22L268.36 169.12L276.36 169.12zM275.61 163.13L271.61 170.03L279.61 170.03zM278.86 163.69L274.86 170.59L282.86 170.59zM282.11 164.8L278.11 171.7L286.11 171.7zM285.36 165.48L281.36 172.38L289.36 172.38zM288.62 164.94L284.62 171.84L292.62 171.84zM291.87 164.56L287.87 171.46L295.87 171.46zM295.12 166.1L291.12 173L299.12 173zM298.37 166.77L294.37 173.67L302.37 173.67zM301.62 168.6L297.62 175.5L305.62 175.5zM304.87 171.72L300.87 178.62L308.87 178.62zM306.5 173.73L302.5 180.63L310.5 180.63zM308.12 176.54L304.12 183.44L312.12 183.44zM309.75 179.34L305.75 186.24L313.75 186.24zM311.37 182.26L307.37 189.16L315.37 189.16zM313 186.46L309 193.36L317 193.36zM314.62 194.77L310.62 201.67L318.62 201.67zM316.25 198.18L312.25 205.08L320.25 205.08zM317.87 200.47L313.87 207.37L321.87 207.37zM325.5 216.9L321.5 223.8L329.5 223.8z"/><path stroke="#ff0000" d="M335.3 29.5H383.5"/><path stroke="#ff0000" d="M355.8 25.9h7.2v7.2h-7.2z"/><path stroke="#00ff00" d="M335.3 46.25H383.5"/><path stroke="#00ff00" d="M355.55 46.25a3.85 3.85 0 1 0 7.7 0a3.85 3.85 0 1 0 -7.7 0z"/><path stroke="#0000ff" d="M335.3 63H383.5"/><path stroke="#0000ff" d="M359.4 58.4L355.4 65.3L363.4 65.3z"/></g><g fill="none" stroke="#000" stroke-width="1.5" stroke-linecap="butt"><rect x="70.8" y="13.3" width="332.9" height="231.1"/><path d="M154.02 244.4v-7.5M154.02 13.3v7.5M237.25 244.4v-7.5M237.25 13.3v7.5M320.47 244.4v-7.5M320.47 13.3v7.5M70.8 17.03h3.8M403.7 17.03h-3.8M70.8 24.89h3.8M403.7 24.89h-3.8M70.8 40.22h3.8M403.7 40.22h-3.8M70.8 51.82h7.5M403.7 51.82h-7.5M70.8 55.55h3.8M403.7 55.55h-3.8M70.8 63.41h3.8M403.7 63.41h-3.8M70.8 78.74h3.8M403.7 78.74h-3.8M70.8 90.33h7.5M403.7 90.33h-7.5M70.8 94.07h3.8M403.7 94.07h-3.8M70.8 101.93h3.8M403.7 101.93h-3.8M70.8 117.26h3.8M403.7 117.26h-3.8M70.8 128.85h7.5M403.7 128.85h-7.5M70.8 132.58h3.8M403.7 132.58h-3.8M70.8 140.44h3.8M403.7 140.44h-3.8M70.8 155.77h3.8M403.7 155.77h-3.8M70.8 167.37h7.5M403.7 167.37h-7.5M70.8 171.1h3.8M403.7 171.1h-3.8M70.8 178.96h3.8M403.7 178.96h-3.8M70.8 194.29h3.8M403.7 194.29h-3.8M70.8 205.88h7.5M403.7 205.88h-7.5M70.8 209.62h3.8M403.7 209.62h-3.8M70.8 217.48h3.8M403.7 217.48h-3.8M70.8 232.81h3.8M403.7 232.81h-3.8"/></g></svg>
<div class="t yt" style="top:6.64px">10<sup>0</sup></div>
<div class="t yt" style="top:44.76px">10<sup>-1</sup></div>
<div class="t yt" style="top:83.27px">10<sup>-2</sup></div>
<div class="t yt" style="top:121.79px">10<sup>-3</sup></div>
<div class="t yt" style="top:160.31px">10<sup>-4</sup></div>
<div class="t yt" style="top:198.82px">10<sup>-5</sup></div>
<div class="t yt" style="top:237.34px">10<sup>-6</sup></div>
<div class="t xt" style="left:40.5px;top:253.04px">0.0</div>
<div class="t xt" style="left:123.72px;top:253.04px">0.4</div>
<div class="t xt" style="left:206.95px;top:253.04px">0.8</div>
<div class="t xt" style="left:290.17px;top:253.04px">1.2</div>
<div class="t xt" style="left:375.9px;top:253.04px">1.6</div>
<div class="t lg" style="top:21.54px">64</div>
<div class="t lg" style="top:38.29px">128</div>
<div class="t lg" style="top:55.04px">256</div>
<div class="t xl" style="top:274.45px;left:30.5px">Distance / lattice length <i>L</i></div>
<div class="t yl" style="left:0.05px;top:154.4px">CDF</div>
</body></html>
